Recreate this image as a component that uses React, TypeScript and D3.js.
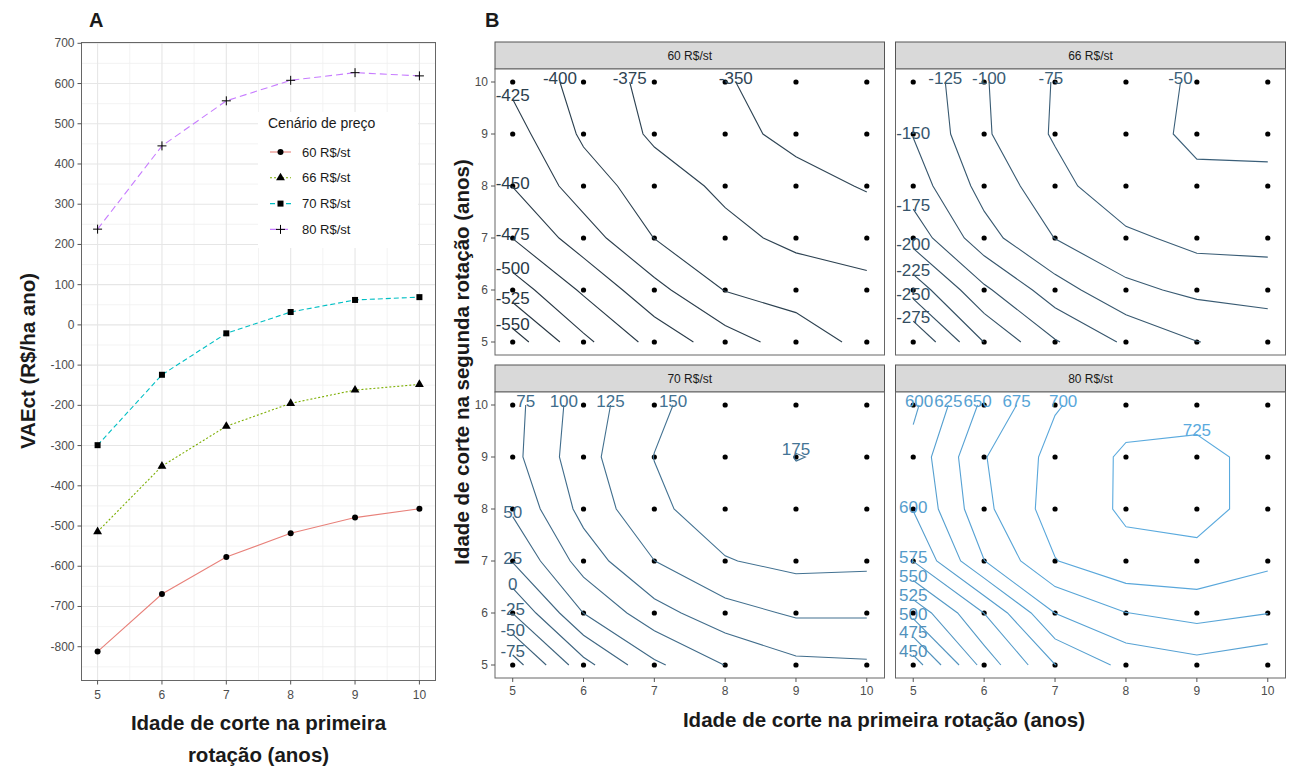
import * as d3 from "d3";

// Panel A: VAEct by first-rotation cutting age, per price scenario
const ages = [5, 6, 7, 8, 9, 10];
const scenarios = ["60 R$/st", "66 R$/st", "70 R$/st", "80 R$/st"];
const vae60 = [-812, -669, -577, -518, -479, -457];
const vae66 = [-514, -351, -252, -195, -162, -148];
const vae70 = [-299, -124, -21, 32, 62, 69];
const vae80 = [238, 445, 557, 608, 627, 619];
const yTicksA = [700, 600, 500, 400, 300, 200, 100, 0, -100, -200, -300, -400, -500, -600, -700, -800];

// Panel B: VAEct grids, rows = second rotation age 5..10, cols = first rotation age 5..10
const grid60 = [
  [-563, -506, -466, -437, -413, -393],
  [-513, -471, -433, -399, -390, -381],
  [-474.5, -437, -399.6, -382, -369, -365],
  [-449.5, -412, -387, -370, -359, -348],
  [-435, -396, -371, -358, -343, -337],
  [-420, -390, -367, -353, -333, -330],
];
const grid66 = [
  [-298.5, -224.5, -177.2, -146, -125.5, -116.8],
  [-240, -180, -136, -106, -94.4, -90.5],
  [-190, -134.4, -99.5, -80.8, -67, -66],
  [-163, -116.2, -84.4, -55, -51.6, -52.6],
  [-149, -103.5, -72, -53, -48.5, -47],
  [-144, -102, -73.3, -56, -48.2, -45],
];
const grid70 = [
  [-87, -8.8, 45.1, 75.5, 94.1, 96.5],
  [-24.5, 50.3, 90.6, 115.4, 128.3, 128],
  [26.7, 86.2, 124.8, 148.5, 157, 155.4],
  [54, 108, 144.8, 163.5, 169.2, 166],
  [68, 116.5, 150.5, 158.8, 175.5, 171.7],
  [66.5, 112.9, 144.6, 165, 168.4, 166],
];
const grid80 = [
  [436.5, 534.7, 599.5, 632, 642, 632.6],
  [507.6, 575.3, 650.3, 674.5, 683.3, 675.5],
  [575.5, 649.5, 699, 719.2, 720.1, 705.9],
  [601, 668.9, 712, 728, 731, 718],
  [608.3, 673.6, 708, 728.7, 732, 716.8],
  [595, 655.6, 698, 715.5, 715.7, 712],
];
const levels60 = [-550, -525, -500, -475, -450, -425, -400, -375, -350];
const levels66 = [-275, -250, -225, -200, -175, -150, -125, -100, -75, -50];
const levels70 = [-75, -50, -25, 0, 25, 50, 75, 100, 125, 150, 175];
const levels80 = [450, 475, 500, 525, 550, 575, 600, 625, 650, 675, 700, 725];

const FONT = "'Liberation Sans', Arial, Helvetica, sans-serif";
const TICK = "#4d4d4d";

type Pt = [number, number];

// marching squares -> joined polylines in data coords
function isolines(grid: number[][], level: number): { pts: Pt[]; closed: boolean }[] {
  const n = ages.length;
  const pos: Record<string, Pt> = {};
  const segs: [string, string][] = [];
  const cross = (key: string, z1: number, z2: number, p1: Pt, p2: Pt) => {
    if ((z1 >= level) === (z2 >= level)) return null;
    const t = (level - z1) / (z2 - z1);
    pos[key] = [p1[0] + t * (p2[0] - p1[0]), p1[1] + t * (p2[1] - p1[1])];
    return key;
  };
  for (let j = 0; j < n - 1; j++) {
    for (let i = 0; i < n - 1; i++) {
      const za = grid[j][i], zb = grid[j][i + 1], zc = grid[j + 1][i + 1], zd = grid[j + 1][i];
      const A: Pt = [ages[i], ages[j]], B: Pt = [ages[i + 1], ages[j]];
      const C: Pt = [ages[i + 1], ages[j + 1]], D: Pt = [ages[i], ages[j + 1]];
      const eB = cross(`h${i}_${j}`, za, zb, A, B);
      const eR = cross(`v${i + 1}_${j}`, zb, zc, B, C);
      const eT = cross(`h${i}_${j + 1}`, zd, zc, D, C);
      const eL = cross(`v${i}_${j}`, za, zd, A, D);
      const es = [eB, eR, eT, eL].filter((e) => e) as string[];
      if (es.length === 2) segs.push([es[0], es[1]]);
      else if (es.length === 4) {
        const center = (za + zb + zc + zd) / 4;
        if ((za >= level) === (center >= level)) {
          segs.push([eB!, eR!], [eT!, eL!]);
        } else {
          segs.push([eL!, eB!], [eR!, eT!]);
        }
      }
    }
  }
  const adj: Record<string, number[]> = {};
  segs.forEach((s, k) => s.forEach((e) => (adj[e] = adj[e] || []).push(k)));
  const used = segs.map(() => false);
  const walk = (start: string) => {
    const keys = [start];
    let cur = start;
    for (;;) {
      const k = (adj[cur] || []).find((q) => !used[q]);
      if (k === undefined) break;
      used[k] = true;
      cur = segs[k][0] === cur ? segs[k][1] : segs[k][0];
      keys.push(cur);
    }
    return keys;
  };
  const out: { pts: Pt[]; closed: boolean }[] = [];
  Object.keys(adj)
    .filter((e) => adj[e].length === 1)
    .forEach((e) => {
      if (adj[e].every((k) => used[k])) return;
      out.push({ pts: walk(e).map((k) => pos[k]), closed: false });
    });
  segs.forEach((s, k) => {
    if (used[k]) return;
    out.push({ pts: walk(s[0]).map((q) => pos[q]), closed: true });
  });
  return out;
}

const levelColor = d3
  .scaleLinear<string>()
  .domain([-550, 725])
  .range(["#26343f", "#5aaade"])
  .interpolate(d3.interpolateLab);

const facets = [
  { title: scenarios[0], grid: grid60, levels: levels60, col: 0, row: 0 },
  { title: scenarios[1], grid: grid66, levels: levels66, col: 1, row: 0 },
  { title: scenarios[2], grid: grid70, levels: levels70, col: 0, row: 1 },
  { title: scenarios[3], grid: grid80, levels: levels80, col: 1, row: 1 },
];
const facetCols = [
  { x0: 495, x1: 884.5 },
  { x0: 895.5, x1: 1285.5 },
];
const facetRows = [
  { strip: 42, y0: 69, y1: 355 },
  { strip: 365, y0: 392, y1: 678 },
];

function PanelA() {
  const x = d3.scaleLinear().domain([4.75, 10.25]).range([81.5, 435.5]);
  const y = d3.scaleLinear().domain([-884, 702]).range([680.5, 42.5]);
  const series = [
    { vals: vae60, color: "#e8817a", dash: "", shape: "circle" },
    { vals: vae66, color: "#7CAE00", dash: "2,2", shape: "triangle" },
    { vals: vae70, color: "#00BFC4", dash: "5,3", shape: "square" },
    { vals: vae80, color: "#C77CFF", dash: "7,4", shape: "plus" },
  ];
  const line = d3.line<number>().x((_, i) => x(ages[i])).y((d) => y(d));
  const minorX = [5.5, 6.5, 7.5, 8.5, 9.5];
  const minorY = [650, 550, 450, 350, 250, 150, 50, -50, -150, -250, -350, -450, -550, -650, -750, -850];
  const marker = (shape: string, cx: number, cy: number, key: string) => {
    if (shape === "circle") return <circle key={key} cx={cx} cy={cy} r={3} fill="#000" />;
    if (shape === "triangle")
      return <path key={key} transform={`translate(${cx},${cy})`} d={d3.symbol(d3.symbolTriangle, 34)()!} fill="#000" />;
    if (shape === "square") return <rect key={key} x={cx - 3} y={cy - 3} width={6} height={6} fill="#000" />;
    return <path key={key} d={`M${cx - 4.5},${cy}H${cx + 4.5}M${cx},${cy - 4.5}V${cy + 4.5}`} stroke="#000" strokeWidth={1} />;
  };
  const [x0, x1] = x.range();
  const [y1, y0] = y.range();
  return (
    <g>
      <rect x={x0} y={y0} width={x1 - x0} height={y1 - y0} fill="#fff" />
      {minorX.map((v) => (
        <line key={"mx" + v} x1={x(v)} x2={x(v)} y1={y0} y2={y1} stroke="#f0f0f0" strokeWidth={0.8} />
      ))}
      {minorY.map((v) => (
        <line key={"my" + v} x1={x0} x2={x1} y1={y(v)} y2={y(v)} stroke="#f0f0f0" strokeWidth={0.8} />
      ))}
      {ages.map((v) => (
        <line key={"gx" + v} x1={x(v)} x2={x(v)} y1={y0} y2={y1} stroke="#e6e6e6" strokeWidth={1.1} />
      ))}
      {yTicksA.map((v) => (
        <line key={"gy" + v} x1={x0} x2={x1} y1={y(v)} y2={y(v)} stroke="#e6e6e6" strokeWidth={1.1} />
      ))}
      {series.map((s, k) => (
        <g key={"s" + k}>
          <path d={line(s.vals)!} fill="none" stroke={s.color} strokeWidth={1.1} strokeDasharray={s.dash} />
          {s.vals.map((v, i) => marker(s.shape, x(ages[i]), y(v), `m${k}_${i}`))}
        </g>
      ))}
      <rect x={x0} y={y0} width={x1 - x0} height={y1 - y0} fill="none" stroke="#666" strokeWidth={1} />
      {yTicksA.map((v) => (
        <g key={"ty" + v}>
          <line x1={x0 - 4} x2={x0} y1={y(v)} y2={y(v)} stroke="#555" />
          <text x={x0 - 7} y={y(v) + 4} textAnchor="end" fontSize={12} fill={TICK} fontFamily={FONT}>
            {v}
          </text>
        </g>
      ))}
      {ages.map((v) => (
        <g key={"tx" + v}>
          <line x1={x(v)} x2={x(v)} y1={y1} y2={y1 + 4} stroke="#555" />
          <text x={x(v)} y={y1 + 18} textAnchor="middle" fontSize={12} fill={TICK} fontFamily={FONT}>
            {v}
          </text>
        </g>
      ))}
      {/* legend */}
      <rect x={258} y={112} width={160} height={136} fill="#fff" />
      <text x={268} y={128} fontSize={14} fill="#1a1a1a" fontFamily={FONT}>
        Cenário de preço
      </text>
      {series.map((s, k) => {
        const cy = 152 + k * 25.8;
        return (
          <g key={"lg" + k}>
            <line x1={270} x2={291} y1={cy} y2={cy} stroke={s.color} strokeWidth={1.1} strokeDasharray={s.dash} />
            {marker(s.shape, 280.5, cy, "lm" + k)}
            <text x={302} y={cy + 4.5} fontSize={13} fill="#1a1a1a" fontFamily={FONT}>
              {scenarios[k]}
            </text>
          </g>
        );
      })}
      <text x={258.5} y={730} textAnchor="middle" fontSize={20.5} fontWeight="bold" fill="#1a1a1a" fontFamily={FONT}>
        Idade de corte na primeira
      </text>
      <text x={258.5} y={762} textAnchor="middle" fontSize={20.5} fontWeight="bold" fill="#1a1a1a" fontFamily={FONT}>
        rotação (anos)
      </text>
      <text
        transform={`translate(35,361) rotate(-90)`}
        textAnchor="middle"
        fontSize={20.5}
        fontWeight="bold"
        fill="#1a1a1a"
        fontFamily={FONT}
      >
        VAEct (R$/ha ano)
      </text>
    </g>
  );
}

function Facet({ f }: { f: (typeof facets)[number] }) {
  const c = facetCols[f.col];
  const r = facetRows[f.row];
  const x = d3.scaleLinear().domain([4.75, 10.25]).range([c.x0, c.x1]);
  const y = d3.scaleLinear().domain([4.75, 10.25]).range([r.y1, r.y0]);
  const line = d3.line<Pt>().x((p) => x(p[0])).y((p) => y(p[1]));
  const pieces = f.levels.flatMap((lv) =>
    isolines(f.grid, lv).map((p) => {
      let lab: Pt;
      if (p.closed) lab = p.pts.reduce((a, b) => (b[1] > a[1] ? b : a));
      else {
        const a = p.pts[0], b = p.pts[p.pts.length - 1];
        lab = a[1] - a[0] >= b[1] - b[0] ? a : b;
      }
      return { lv, pts: p.pts, lab };
    })
  );
  return (
    <g>
      <rect x={c.x0} y={r.strip} width={c.x1 - c.x0} height={r.y0 - r.strip} fill="#d9d9d9" stroke="#555" strokeWidth={1} />
      <text x={(c.x0 + c.x1) / 2} y={(r.strip + r.y0) / 2 + 4.5} textAnchor="middle" fontSize={12} fill="#1a1a1a" fontFamily={FONT}>
        {f.title}
      </text>
      <rect x={c.x0} y={r.y0} width={c.x1 - c.x0} height={r.y1 - r.y0} fill="#fff" stroke="#666" strokeWidth={1} />
      {ages.flatMap((xa) =>
        ages.map((ya) => <circle key={`p${xa}_${ya}`} cx={x(xa)} cy={y(ya)} r={2.6} fill="#000" />)
      )}
      {pieces.map((p, k) => (
        <path key={"c" + k} d={line(p.pts)!} fill="none" stroke={levelColor(p.lv)} strokeWidth={1.1} />
      ))}
      {pieces.map((p, k) => (
        <text
          key={"l" + k}
          x={x(p.lab[0])}
          y={y(p.lab[1]) - 4}
          dominantBaseline="central"
          textAnchor="middle"
          fontSize={17}
          fill={levelColor(p.lv)}
          fontFamily={FONT}
        >
          {p.lv}
        </text>
      ))}
      {f.col === 0 &&
        ages.map((v) => (
          <g key={"ty" + v}>
            <line x1={c.x0 - 4} x2={c.x0} y1={y(v)} y2={y(v)} stroke="#555" />
            <text x={c.x0 - 7} y={y(v) + 4} textAnchor="end" fontSize={12} fill={TICK} fontFamily={FONT}>
              {v}
            </text>
          </g>
        ))}
      {f.row === 1 &&
        ages.map((v) => (
          <g key={"tx" + v}>
            <line x1={x(v)} x2={x(v)} y1={r.y1} y2={r.y1 + 4} stroke="#555" />
            <text x={x(v)} y={r.y1 + 17} textAnchor="middle" fontSize={12} fill={TICK} fontFamily={FONT}>
              {v}
            </text>
          </g>
        ))}
    </g>
  );
}

export default function App() {
  return (
    <svg
      width={1292}
      height={769}
      viewBox="0 0 1292 769"
      style={{ position: "absolute", left: 0, top: 0, background: "#fff", display: "block" }}
    >
      <rect width={1292} height={769} fill="#fff" />
      <text x={89} y={27} fontSize={20} fontWeight="bold" fill="#1a1a1a" fontFamily={FONT}>
        A
      </text>
      <text x={485} y={27} fontSize={20} fontWeight="bold" fill="#1a1a1a" fontFamily={FONT}>
        B
      </text>
      <PanelA />
      {facets.map((f) => (
        <Facet key={f.title} f={f} />
      ))}
      <text x={884} y={727} textAnchor="middle" fontSize={20.5} fontWeight="bold" fill="#1a1a1a" fontFamily={FONT}>
        Idade de corte na primeira rotação (anos)
      </text>
      <text
        transform={`translate(469,362) rotate(-90)`}
        textAnchor="middle"
        fontSize={20.5}
        fontWeight="bold"
        fill="#1a1a1a"
        fontFamily={FONT}
      >
        Idade de corte na segunda rotação (anos)
      </text>
    </svg>
  );
}
